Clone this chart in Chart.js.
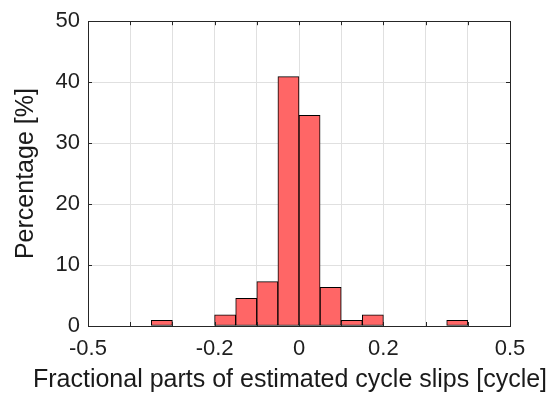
<!DOCTYPE html>
<html>
<head>
<meta charset="utf-8">
<script src="https://cdn.jsdelivr.net/npm/chart.js@4/dist/chart.umd.min.js"></script>
<style>
  body { margin: 0; background: #fff; }
</style>
</head>
<body>
<canvas id="histChart" width="556" height="395"></canvas>
<script>
// bin centres (width 0.05, from -0.5 to 0.5)
const binCenters = [-0.475, -0.425, -0.375, -0.325, -0.275, -0.225, -0.175, -0.125, -0.075, -0.025,
                    0.025, 0.075, 0.125, 0.175, 0.225, 0.275, 0.325, 0.375, 0.425, 0.475];
// percentage in each bin
const percentages = [0, 0, 0, 0.91, 0, 0, 1.82, 4.55, 7.27, 40.91,
                     34.55, 6.36, 0.91, 1.82, 0, 0, 0, 0.91, 0, 0];
const xTickLabels = [-0.5, -0.2, 0, 0.2, 0.5];
const yTicks = [0, 10, 20, 30, 40, 50];
const xTitle = 'Fractional parts of estimated cycle slips [cycle]';

const FONT = 'Arial, "Liberation Sans", sans-serif';

// box + inward tick marks like matlab, and the x label (chart.js squeezes it to the axis width)
const boxPlugin = {
    id: 'box',
    afterDraw(chart) {
        const ctx = chart.ctx;
        const a = chart.chartArea;
        const xs = chart.scales.x, ys = chart.scales.y;
        ctx.save();
        ctx.strokeStyle = '#262626';
        ctx.lineWidth = 1;
        ctx.beginPath();
        for (let i = -5; i <= 5; i++) {
            const px = Math.round(xs.getPixelForValue(i / 10)) + 0.5;
            ctx.moveTo(px, a.bottom); ctx.lineTo(px, a.bottom - 4);
            ctx.moveTo(px, a.top); ctx.lineTo(px, a.top + 4);
        }
        yTicks.forEach(v => {
            const py = Math.round(ys.getPixelForValue(v)) + 0.5;
            ctx.moveTo(a.left, py); ctx.lineTo(a.left + 4, py);
            ctx.moveTo(a.right, py); ctx.lineTo(a.right - 4, py);
        });
        ctx.stroke();
        ctx.strokeRect(Math.round(a.left) + 0.5, Math.round(a.top) + 0.5,
                       Math.round(a.right - a.left), Math.round(a.bottom - a.top));

        ctx.fillStyle = '#1a1a1a';
        ctx.font = '25px ' + FONT;
        ctx.textAlign = 'center';
        ctx.textBaseline = 'alphabetic';
        ctx.fillText(xTitle, 290, 387);
        ctx.restore();
    }
};

const ctx = document.getElementById('histChart').getContext('2d');

new Chart(ctx, {
    type: 'bar',
    data: {
        datasets: [{
            data: binCenters.map((c, i) => ({ x: c, y: percentages[i] > 0 ? percentages[i] : null })),
            backgroundColor: 'rgb(255,102,102)',
            borderColor: '#000',
            borderWidth: 1,
            borderSkipped: false,
            barPercentage: 1,
            categoryPercentage: 1
        }]
    },
    options: {
        responsive: false,
        animation: false,
        layout: { padding: { top: 14, right: 46, left: 0, bottom: 0 } },
        plugins: { legend: { display: false }, tooltip: { enabled: false } },
        scales: {
            x: {
                type: 'linear',
                min: -0.5, max: 0.5,
                offset: false,
                afterFit: s => { s.height = 69; },
                afterBuildTicks: s => {
                    s.ticks = [];
                    for (let i = -5; i <= 5; i++) s.ticks.push({ value: i / 10 });
                },
                grid: { color: '#e0e0e0', drawTicks: false, offset: false },
                border: { display: false },
                ticks: {
                    autoSkip: false,
                    maxRotation: 0,
                    padding: 10,
                    color: '#1f1f1f',
                    font: { family: FONT, size: 22 },
                    callback: v => {
                        const r = Math.round(v * 10) / 10;
                        return xTickLabels.includes(r) ? String(r) : '';
                    }
                }
            },
            y: {
                min: 0, max: 50,
                afterFit: s => { s.width = 88; },
                grid: { color: '#e0e0e0', drawTicks: false },
                border: { display: false },
                ticks: {
                    stepSize: 10,
                    padding: 8,
                    color: '#1f1f1f',
                    font: { family: FONT, size: 22 }
                },
                title: {
                    display: true,
                    text: 'Percentage [%]',
                    color: '#1a1a1a',
                    font: { family: FONT, size: 25 },
                    padding: { top: 11, bottom: 0 }
                }
            }
        }
    },
    plugins: [boxPlugin]
});
</script>
</body>
</html>
